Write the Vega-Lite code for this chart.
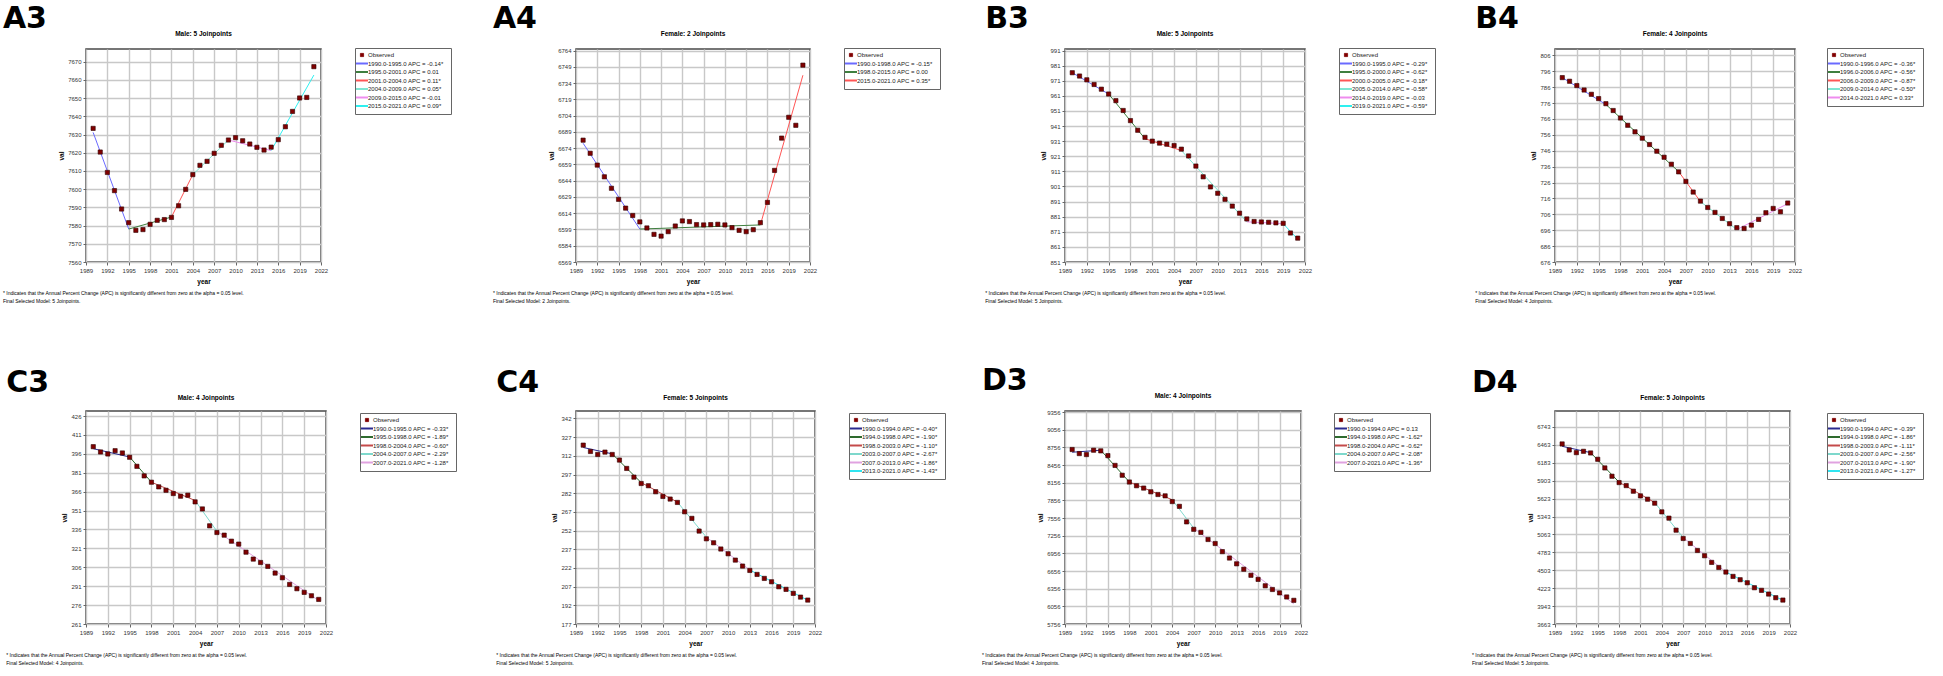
{
"$schema": "https://vega.github.io/schema/vega-lite/v6.json",
"padding": {"left": 2, "top": 4, "right": 0, "bottom": 0},
"background": "white",
"config": {
 "font": "Liberation Sans",
 "view": {"stroke": "#4a4a4a", "strokeWidth": 1.5},
 "axis": {"labelFontSize": 6, "labelColor": "#333333", "labelOverlap": false, "labelFlush": false, "labelBound": false, "titleFontSize": 6.5, "titleFontWeight": "bold", "titleColor": "#000000", "gridColor": "#c8c8c8", "gridWidth": 1.4, "tickColor": "#666666", "tickSize": 3, "domain": false, "labelPadding": 2, "titlePadding": 5},
 "axisY": {"titlePadding": 3},
 "legend": {"labelFontSize": 6, "labelColor": "#222222", "labelLimit": 300, "symbolSize": 16, "rowPadding": 0.5, "padding": 4, "strokeColor": "#666666", "labelOffset": 3},
 "title": {"color": "#000000"}
},
"datasets": {
 "obs": [
  {"p":"A3","year":1990,"v":7633.4},{"p":"A3","year":1991,"v":7620.4},{"p":"A3","year":1992,"v":7609.2},{"p":"A3","year":1993,"v":7599.2},{"p":"A3","year":1994,"v":7589.1},{"p":"A3","year":1995,"v":7581.6},{"p":"A3","year":1996,"v":7577.4},{"p":"A3","year":1997,"v":7577.8},{"p":"A3","year":1998,"v":7580.7},{"p":"A3","year":1999,"v":7582.9},{"p":"A3","year":2000,"v":7583.3},{"p":"A3","year":2001,"v":7584.5},{"p":"A3","year":2002,"v":7590.9},{"p":"A3","year":2003,"v":7599.9},{"p":"A3","year":2004,"v":7608.0},{"p":"A3","year":2005,"v":7613.1},{"p":"A3","year":2006,"v":7615.3},{"p":"A3","year":2007,"v":7619.7},{"p":"A3","year":2008,"v":7624.1},{"p":"A3","year":2009,"v":7627.0},{"p":"A3","year":2010,"v":7628.3},{"p":"A3","year":2011,"v":7626.6},{"p":"A3","year":2012,"v":7624.8},{"p":"A3","year":2013,"v":7623.0},{"p":"A3","year":2014,"v":7621.5},{"p":"A3","year":2015,"v":7623.1},{"p":"A3","year":2016,"v":7627.2},{"p":"A3","year":2017,"v":7634.3},{"p":"A3","year":2018,"v":7642.7},{"p":"A3","year":2019,"v":7650.1},{"p":"A3","year":2020,"v":7650.4},{"p":"A3","year":2021,"v":7667.3},
  {"p":"A4","year":1990,"v":6681.4},{"p":"A4","year":1991,"v":6669.3},{"p":"A4","year":1992,"v":6658.4},{"p":"A4","year":1993,"v":6647.6},{"p":"A4","year":1994,"v":6637.0},{"p":"A4","year":1995,"v":6626.8},{"p":"A4","year":1996,"v":6618.7},{"p":"A4","year":1997,"v":6611.9},{"p":"A4","year":1998,"v":6606.0},{"p":"A4","year":1999,"v":6600.4},{"p":"A4","year":2000,"v":6594.5},{"p":"A4","year":2001,"v":6592.9},{"p":"A4","year":2002,"v":6597.0},{"p":"A4","year":2003,"v":6602.2},{"p":"A4","year":2004,"v":6606.9},{"p":"A4","year":2005,"v":6606.3},{"p":"A4","year":2006,"v":6603.5},{"p":"A4","year":2007,"v":6603.2},{"p":"A4","year":2008,"v":6603.5},{"p":"A4","year":2009,"v":6603.8},{"p":"A4","year":2010,"v":6603.2},{"p":"A4","year":2011,"v":6600.7},{"p":"A4","year":2012,"v":6598.2},{"p":"A4","year":2013,"v":6597.0},{"p":"A4","year":2014,"v":6598.8},{"p":"A4","year":2015,"v":6605.3},{"p":"A4","year":2016,"v":6624.0},{"p":"A4","year":2017,"v":6653.5},{"p":"A4","year":2018,"v":6683.3},{"p":"A4","year":2019,"v":6702.5},{"p":"A4","year":2020,"v":6695.1},{"p":"A4","year":2021,"v":6750.6},
  {"p":"B3","year":1990,"v":976.3},{"p":"B3","year":1991,"v":974.1},{"p":"B3","year":1992,"v":971.6},{"p":"B3","year":1993,"v":968.5},{"p":"B3","year":1994,"v":965.4},{"p":"B3","year":1995,"v":962.2},{"p":"B3","year":1996,"v":957.8},{"p":"B3","year":1997,"v":951.3},{"p":"B3","year":1998,"v":944.6},{"p":"B3","year":1999,"v":938.2},{"p":"B3","year":2000,"v":933.5},{"p":"B3","year":2001,"v":931.0},{"p":"B3","year":2002,"v":929.7},{"p":"B3","year":2003,"v":929.0},{"p":"B3","year":2004,"v":928.1},{"p":"B3","year":2005,"v":925.7},{"p":"B3","year":2006,"v":921.2},{"p":"B3","year":2007,"v":914.5},{"p":"B3","year":2008,"v":907.4},{"p":"B3","year":2009,"v":900.7},{"p":"B3","year":2010,"v":896.5},{"p":"B3","year":2011,"v":892.5},{"p":"B3","year":2012,"v":888.0},{"p":"B3","year":2013,"v":883.3},{"p":"B3","year":2014,"v":879.5},{"p":"B3","year":2015,"v":877.8},{"p":"B3","year":2016,"v":877.5},{"p":"B3","year":2017,"v":877.3},{"p":"B3","year":2018,"v":876.9},{"p":"B3","year":2019,"v":876.6},{"p":"B3","year":2020,"v":870.2},{"p":"B3","year":2021,"v":866.8},
  {"p":"B4","year":1990,"v":792.0},{"p":"B4","year":1991,"v":789.7},{"p":"B4","year":1992,"v":787.0},{"p":"B4","year":1993,"v":784.2},{"p":"B4","year":1994,"v":781.5},{"p":"B4","year":1995,"v":778.8},{"p":"B4","year":1996,"v":775.6},{"p":"B4","year":1997,"v":771.3},{"p":"B4","year":1998,"v":766.6},{"p":"B4","year":1999,"v":762.0},{"p":"B4","year":2000,"v":757.9},{"p":"B4","year":2001,"v":753.9},{"p":"B4","year":2002,"v":749.9},{"p":"B4","year":2003,"v":745.7},{"p":"B4","year":2004,"v":741.9},{"p":"B4","year":2005,"v":737.5},{"p":"B4","year":2006,"v":732.7},{"p":"B4","year":2007,"v":726.7},{"p":"B4","year":2008,"v":720.0},{"p":"B4","year":2009,"v":714.3},{"p":"B4","year":2010,"v":710.3},{"p":"B4","year":2011,"v":707.2},{"p":"B4","year":2012,"v":703.4},{"p":"B4","year":2013,"v":700.1},{"p":"B4","year":2014,"v":697.6},{"p":"B4","year":2015,"v":697.1},{"p":"B4","year":2016,"v":699.2},{"p":"B4","year":2017,"v":702.8},{"p":"B4","year":2018,"v":707.0},{"p":"B4","year":2019,"v":709.7},{"p":"B4","year":2020,"v":707.6},{"p":"B4","year":2021,"v":713.1},
  {"p":"C3","year":1990,"v":401.7},{"p":"C3","year":1991,"v":397.5},{"p":"C3","year":1992,"v":395.9},{"p":"C3","year":1993,"v":398.5},{"p":"C3","year":1994,"v":396.7},{"p":"C3","year":1995,"v":393.3},{"p":"C3","year":1996,"v":386.1},{"p":"C3","year":1997,"v":378.5},{"p":"C3","year":1998,"v":373.5},{"p":"C3","year":1999,"v":369.8},{"p":"C3","year":2000,"v":367.1},{"p":"C3","year":2001,"v":364.5},{"p":"C3","year":2002,"v":362.4},{"p":"C3","year":2003,"v":363.2},{"p":"C3","year":2004,"v":357.9},{"p":"C3","year":2005,"v":352.3},{"p":"C3","year":2006,"v":338.9},{"p":"C3","year":2007,"v":333.6},{"p":"C3","year":2008,"v":331.5},{"p":"C3","year":2009,"v":326.7},{"p":"C3","year":2010,"v":324.4},{"p":"C3","year":2011,"v":318.0},{"p":"C3","year":2012,"v":312.5},{"p":"C3","year":2013,"v":309.8},{"p":"C3","year":2014,"v":306.7},{"p":"C3","year":2015,"v":301.4},{"p":"C3","year":2016,"v":297.7},{"p":"C3","year":2017,"v":292.4},{"p":"C3","year":2018,"v":289.0},{"p":"C3","year":2019,"v":286.1},{"p":"C3","year":2020,"v":283.4},{"p":"C3","year":2021,"v":280.5},
  {"p":"C4","year":1990,"v":320.6},{"p":"C4","year":1991,"v":315.5},{"p":"C4","year":1992,"v":313.1},{"p":"C4","year":1993,"v":315.0},{"p":"C4","year":1994,"v":313.1},{"p":"C4","year":1995,"v":308.6},{"p":"C4","year":1996,"v":301.9},{"p":"C4","year":1997,"v":294.9},{"p":"C4","year":1998,"v":289.8},{"p":"C4","year":1999,"v":288.0},{"p":"C4","year":2000,"v":283.2},{"p":"C4","year":2001,"v":279.4},{"p":"C4","year":2002,"v":277.3},{"p":"C4","year":2003,"v":274.6},{"p":"C4","year":2004,"v":267.1},{"p":"C4","year":2005,"v":261.8},{"p":"C4","year":2006,"v":251.6},{"p":"C4","year":2007,"v":245.4},{"p":"C4","year":2008,"v":242.2},{"p":"C4","year":2009,"v":237.2},{"p":"C4","year":2010,"v":233.4},{"p":"C4","year":2011,"v":228.3},{"p":"C4","year":2012,"v":223.5},{"p":"C4","year":2013,"v":220.0},{"p":"C4","year":2014,"v":216.8},{"p":"C4","year":2015,"v":213.6},{"p":"C4","year":2016,"v":210.9},{"p":"C4","year":2017,"v":206.9},{"p":"C4","year":2018,"v":204.8},{"p":"C4","year":2019,"v":201.6},{"p":"C4","year":2020,"v":198.6},{"p":"C4","year":2021,"v":196.2},
  {"p":"D3","year":1990,"v":8719},{"p":"D3","year":1991,"v":8650},{"p":"D3","year":1992,"v":8633},{"p":"D3","year":1993,"v":8707},{"p":"D3","year":1994,"v":8696},{"p":"D3","year":1995,"v":8615},{"p":"D3","year":1996,"v":8449},{"p":"D3","year":1997,"v":8282},{"p":"D3","year":1998,"v":8167},{"p":"D3","year":1999,"v":8104},{"p":"D3","year":2000,"v":8064},{"p":"D3","year":2001,"v":8001},{"p":"D3","year":2002,"v":7955},{"p":"D3","year":2003,"v":7932},{"p":"D3","year":2004,"v":7835},{"p":"D3","year":2005,"v":7754},{"p":"D3","year":2006,"v":7490},{"p":"D3","year":2007,"v":7364},{"p":"D3","year":2008,"v":7312},{"p":"D3","year":2009,"v":7191},{"p":"D3","year":2010,"v":7123},{"p":"D3","year":2011,"v":6985},{"p":"D3","year":2012,"v":6876},{"p":"D3","year":2013,"v":6778},{"p":"D3","year":2014,"v":6686},{"p":"D3","year":2015,"v":6583},{"p":"D3","year":2016,"v":6514},{"p":"D3","year":2017,"v":6405},{"p":"D3","year":2018,"v":6342},{"p":"D3","year":2019,"v":6284},{"p":"D3","year":2020,"v":6215},{"p":"D3","year":2021,"v":6158},
  {"p":"D4","year":1990,"v":6478},{"p":"D4","year":1991,"v":6384},{"p":"D4","year":1992,"v":6342},{"p":"D4","year":1993,"v":6363},{"p":"D4","year":1994,"v":6337},{"p":"D4","year":1995,"v":6238},{"p":"D4","year":1996,"v":6103},{"p":"D4","year":1997,"v":5973},{"p":"D4","year":1998,"v":5874},{"p":"D4","year":1999,"v":5827},{"p":"D4","year":2000,"v":5739},{"p":"D4","year":2001,"v":5666},{"p":"D4","year":2002,"v":5614},{"p":"D4","year":2003,"v":5552},{"p":"D4","year":2004,"v":5416},{"p":"D4","year":2005,"v":5318},{"p":"D4","year":2006,"v":5130},{"p":"D4","year":2007,"v":5000},{"p":"D4","year":2008,"v":4922},{"p":"D4","year":2009,"v":4813},{"p":"D4","year":2010,"v":4730},{"p":"D4","year":2011,"v":4626},{"p":"D4","year":2012,"v":4547},{"p":"D4","year":2013,"v":4475},{"p":"D4","year":2014,"v":4407},{"p":"D4","year":2015,"v":4355},{"p":"D4","year":2016,"v":4308},{"p":"D4","year":2017,"v":4230},{"p":"D4","year":2018,"v":4189},{"p":"D4","year":2019,"v":4131},{"p":"D4","year":2020,"v":4074},{"p":"D4","year":2021,"v":4037}
 ],
 "fit": [
  {"p":"A3","seg":"1990.0-1995.0 APC  =  -0.14*","year":1990,"v":7631.2},{"p":"A3","seg":"1990.0-1995.0 APC  =  -0.14*","year":1995,"v":7578.1},
  {"p":"A3","seg":"1995.0-2001.0 APC  =  0.01","year":1995,"v":7578.1},{"p":"A3","seg":"1995.0-2001.0 APC  =  0.01","year":2001,"v":7584.7},
  {"p":"A3","seg":"2001.0-2004.0 APC  =  0.11*","year":2001,"v":7584.7},{"p":"A3","seg":"2001.0-2004.0 APC  =  0.11*","year":2004,"v":7608.0},
  {"p":"A3","seg":"2004.0-2009.0 APC  =  0.05*","year":2004,"v":7608.0},{"p":"A3","seg":"2004.0-2009.0 APC  =  0.05*","year":2009,"v":7627.0},
  {"p":"A3","seg":"2009.0-2015.0 APC  =  -0.01","year":2009,"v":7627.0},{"p":"A3","seg":"2009.0-2015.0 APC  =  -0.01","year":2015,"v":7621.2},
  {"p":"A3","seg":"2015.0-2021.0 APC  =  0.09*","year":2015,"v":7621.2},{"p":"A3","seg":"2015.0-2021.0 APC  =  0.09*","year":2021,"v":7662.7},
  {"p":"A4","seg":"1990.0-1998.0 APC  =  -0.15*","year":1990,"v":6678.6},{"p":"A4","seg":"1990.0-1998.0 APC  =  -0.15*","year":1998,"v":6599.4},
  {"p":"A4","seg":"1998.0-2015.0 APC  =  0.00","year":1998,"v":6599.4},{"p":"A4","seg":"1998.0-2015.0 APC  =  0.00","year":2015,"v":6603.2},
  {"p":"A4","seg":"2015.0-2021.0 APC  =  0.35*","year":2015,"v":6603.2},{"p":"A4","seg":"2015.0-2021.0 APC  =  0.35*","year":2021,"v":6741.3},
  {"p":"B3","seg":"1990.0-1995.0 APC  =  -0.29*","year":1990,"v":976.3},{"p":"B3","seg":"1990.0-1995.0 APC  =  -0.29*","year":1995,"v":962.2},
  {"p":"B3","seg":"1995.0-2000.0 APC  =  -0.62*","year":1995,"v":962.2},{"p":"B3","seg":"1995.0-2000.0 APC  =  -0.62*","year":2000,"v":932.6},
  {"p":"B3","seg":"2000.0-2005.0 APC  =  -0.18*","year":2000,"v":932.6},{"p":"B3","seg":"2000.0-2005.0 APC  =  -0.18*","year":2005,"v":924.8},
  {"p":"B3","seg":"2005.0-2014.0 APC  =  -0.58*","year":2005,"v":924.8},{"p":"B3","seg":"2005.0-2014.0 APC  =  -0.58*","year":2014,"v":877.6},
  {"p":"B3","seg":"2014.0-2019.0 APC  =  -0.03","year":2014,"v":877.6},{"p":"B3","seg":"2014.0-2019.0 APC  =  -0.03","year":2019,"v":876.4},
  {"p":"B3","seg":"2019.0-2021.0 APC  =  -0.59*","year":2019,"v":876.4},{"p":"B3","seg":"2019.0-2021.0 APC  =  -0.59*","year":2021,"v":866.1},
  {"p":"B4","seg":"1990.0-1996.0 APC  =  -0.36*","year":1990,"v":792.0},{"p":"B4","seg":"1990.0-1996.0 APC  =  -0.36*","year":1996,"v":775.1},
  {"p":"B4","seg":"1996.0-2006.0 APC  =  -0.56*","year":1996,"v":775.1},{"p":"B4","seg":"1996.0-2006.0 APC  =  -0.56*","year":2006,"v":732.9},
  {"p":"B4","seg":"2006.0-2009.0 APC  =  -0.87*","year":2006,"v":732.9},{"p":"B4","seg":"2006.0-2009.0 APC  =  -0.87*","year":2009,"v":714.0},
  {"p":"B4","seg":"2009.0-2014.0 APC  =  -0.50*","year":2009,"v":714.0},{"p":"B4","seg":"2009.0-2014.0 APC  =  -0.50*","year":2014,"v":696.4},
  {"p":"B4","seg":"2014.0-2021.0 APC  =  0.33*","year":2014,"v":696.4},{"p":"B4","seg":"2014.0-2021.0 APC  =  0.33*","year":2021,"v":712.7},
  {"p":"C3","seg":"1990.0-1995.0 APC  =  -0.33*","year":1990,"v":400.1},{"p":"C3","seg":"1990.0-1995.0 APC  =  -0.33*","year":1995,"v":393.5},
  {"p":"C3","seg":"1995.0-1998.0 APC  =  -1.89*","year":1995,"v":393.5},{"p":"C3","seg":"1995.0-1998.0 APC  =  -1.89*","year":1998,"v":373.5},
  {"p":"C3","seg":"1998.0-2004.0 APC  =  -0.60*","year":1998,"v":373.5},{"p":"C3","seg":"1998.0-2004.0 APC  =  -0.60*","year":2004,"v":359.0},
  {"p":"C3","seg":"2004.0-2007.0 APC  =  -2.29*","year":2004,"v":359.0},{"p":"C3","seg":"2004.0-2007.0 APC  =  -2.29*","year":2007,"v":334.6},
  {"p":"C3","seg":"2007.0-2021.0 APC  =  -1.28*","year":2007,"v":334.6},{"p":"C3","seg":"2007.0-2021.0 APC  =  -1.28*","year":2021,"v":279.6},
  {"p":"C4","seg":"1990.0-1994.0 APC  =  -0.40*","year":1990,"v":318.7},{"p":"C4","seg":"1990.0-1994.0 APC  =  -0.40*","year":1994,"v":313.6},
  {"p":"C4","seg":"1994.0-1998.0 APC  =  -1.90*","year":1994,"v":313.6},{"p":"C4","seg":"1994.0-1998.0 APC  =  -1.90*","year":1998,"v":290.5},
  {"p":"C4","seg":"1998.0-2003.0 APC  =  -1.10*","year":1998,"v":290.5},{"p":"C4","seg":"1998.0-2003.0 APC  =  -1.10*","year":2003,"v":274.9},
  {"p":"C4","seg":"2003.0-2007.0 APC  =  -2.67*","year":2003,"v":274.9},{"p":"C4","seg":"2003.0-2007.0 APC  =  -2.67*","year":2007,"v":246.7},
  {"p":"C4","seg":"2007.0-2013.0 APC  =  -1.86*","year":2007,"v":246.7},{"p":"C4","seg":"2007.0-2013.0 APC  =  -1.86*","year":2013,"v":220.4},
  {"p":"C4","seg":"2013.0-2021.0 APC  =  -1.43*","year":2013,"v":220.4},{"p":"C4","seg":"2013.0-2021.0 APC  =  -1.43*","year":2021,"v":196.1},
  {"p":"D3","seg":"1990.0-1994.0 APC  =  0.13","year":1990,"v":8673},{"p":"D3","seg":"1990.0-1994.0 APC  =  0.13","year":1994,"v":8707},
  {"p":"D3","seg":"1994.0-1998.0 APC  =  -1.62*","year":1994,"v":8707},{"p":"D3","seg":"1994.0-1998.0 APC  =  -1.62*","year":1998,"v":8167},
  {"p":"D3","seg":"1998.0-2004.0 APC  =  -0.62*","year":1998,"v":8167},{"p":"D3","seg":"1998.0-2004.0 APC  =  -0.62*","year":2004,"v":7865},
  {"p":"D3","seg":"2004.0-2007.0 APC  =  -2.08*","year":2004,"v":7865},{"p":"D3","seg":"2004.0-2007.0 APC  =  -2.08*","year":2007,"v":7384},
  {"p":"D3","seg":"2007.0-2021.0 APC  =  -1.36*","year":2007,"v":7384},{"p":"D3","seg":"2007.0-2021.0 APC  =  -1.36*","year":2021,"v":6098},
  {"p":"D4","seg":"1990.0-1994.0 APC  =  -0.39*","year":1990,"v":6441},{"p":"D4","seg":"1990.0-1994.0 APC  =  -0.39*","year":1994,"v":6342},
  {"p":"D4","seg":"1994.0-1998.0 APC  =  -1.86*","year":1994,"v":6342},{"p":"D4","seg":"1994.0-1998.0 APC  =  -1.86*","year":1998,"v":5880},
  {"p":"D4","seg":"1998.0-2003.0 APC  =  -1.11*","year":1998,"v":5880},{"p":"D4","seg":"1998.0-2003.0 APC  =  -1.11*","year":2003,"v":5562},
  {"p":"D4","seg":"2003.0-2007.0 APC  =  -2.56*","year":2003,"v":5562},{"p":"D4","seg":"2003.0-2007.0 APC  =  -2.56*","year":2007,"v":5014},
  {"p":"D4","seg":"2007.0-2013.0 APC  =  -1.90*","year":2007,"v":5014},{"p":"D4","seg":"2007.0-2013.0 APC  =  -1.90*","year":2013,"v":4475},
  {"p":"D4","seg":"2013.0-2021.0 APC  =  -1.27*","year":2013,"v":4475},{"p":"D4","seg":"2013.0-2021.0 APC  =  -1.27*","year":2021,"v":4033}
 ]
},
"columns": 4,
"spacing": {"row": 60, "column": 34},
"resolve": {"scale": {"x": "independent", "y": "independent", "color": "independent"}, "legend": {"color": "independent"}, "axis": {"x": "independent", "y": "independent"}},
"concat": [
 {"resolve": {"scale": {"color": "independent"}, "legend": {"color": "independent"}},
  "title": {"text": ["* Indicates that the Annual Percent Change (APC) is significantly different from zero at the alpha = 0.05 level.", "Final Selected Model: 5 Joinpoints."], "orient": "bottom", "anchor": "start", "fontSize": 5, "fontWeight": "normal", "offset": 6, "lineHeight": 8},
  "vconcat": [{"resolve": {"scale": {"color": "independent"}, "legend": {"color": "independent"}},
   "title": {"text": "A3", "anchor": "start", "font": "DejaVu Sans", "fontSize": 30, "fontWeight": "bold", "offset": -4, "dx": -55},
   "vconcat": [{"width": 235, "height": 213,
    "title": {"text": "Male: 5 Joinpoints", "fontSize": 6.5, "fontWeight": "bold", "anchor": "middle", "frame": "group", "offset": 10},
    "layer": [
     {"data": {"name": "fit"}, "transform": [{"filter": "datum.p == 'A3'"}], "mark": {"type": "line", "strokeWidth": 1},
      "encoding": {
       "x": {"field": "year", "type": "quantitative", "scale": {"domain": [1989, 2022], "nice": false, "zero": false}, "axis": {"values": [1989,1992,1995,1998,2001,2004,2007,2010,2013,2016,2019,2022], "tickCount": 60, "format": "d", "title": "year"}},
       "y": {"field": "v", "type": "quantitative", "scale": {"domain": [7560, 7677], "nice": false, "zero": false}, "axis": {"values": [7560,7570,7580,7590,7600,7610,7620,7630,7640,7650,7660,7670], "tickCount": 60, "format": "d", "title": "val"}},
       "color": {"field": "seg", "type": "nominal", "scale": {"domain": ["Observed","1990.0-1995.0 APC  =  -0.14*","1995.0-2001.0 APC  =  0.01","2001.0-2004.0 APC  =  0.11*","2004.0-2009.0 APC  =  0.05*","2009.0-2015.0 APC  =  -0.01","2015.0-2021.0 APC  =  0.09*"], "range": ["#800000","#6a6aff","#3f7f3f","#ff5555","#7ee6d2","#ee8cee","#2ef0f0"]},
        "legend": {"orient": "none", "legendX": 269, "legendY": -1, "title": null,
         "encode": {"symbols": {"update": {"shape": {"signal": "datum.value == 'Observed' ? 'M-0.8,-0.8H0.8V0.8H-0.8Z' : 'M-3,0H3'"}, "fill": {"signal": "datum.value == 'Observed' ? '#800000' : 'transparent'"}, "strokeWidth": {"signal": "datum.value == 'Observed' ? 0.8 : 2"}}}}}}
      }},
     {"data": {"name": "obs"}, "transform": [{"filter": "datum.p == 'A3'"}], "mark": {"type": "square", "filled": true, "opacity": 1, "size": 18, "color": "#800000", "stroke": "#300000", "strokeWidth": 0.6},
      "encoding": {"x": {"field": "year", "type": "quantitative"}, "y": {"field": "v", "type": "quantitative"}}}
    ]}]
  }]
 },
 {"resolve": {"scale": {"color": "independent"}, "legend": {"color": "independent"}},
  "title": {"text": ["* Indicates that the Annual Percent Change (APC) is significantly different from zero at the alpha = 0.05 level.", "Final Selected Model: 2 Joinpoints."], "orient": "bottom", "anchor": "start", "fontSize": 5, "fontWeight": "normal", "offset": 6, "lineHeight": 8},
  "vconcat": [{"resolve": {"scale": {"color": "independent"}, "legend": {"color": "independent"}},
   "title": {"text": "A4", "anchor": "start", "font": "DejaVu Sans", "fontSize": 30, "fontWeight": "bold", "offset": -4, "dx": -55},
   "vconcat": [{"width": 234, "height": 213,
    "title": {"text": "Female: 2 Joinpoints", "fontSize": 6.5, "fontWeight": "bold", "anchor": "middle", "frame": "group", "offset": 10},
    "layer": [
     {"data": {"name": "fit"}, "transform": [{"filter": "datum.p == 'A4'"}], "mark": {"type": "line", "strokeWidth": 1},
      "encoding": {
       "x": {"field": "year", "type": "quantitative", "scale": {"domain": [1989, 2022], "nice": false, "zero": false}, "axis": {"values": [1989,1992,1995,1998,2001,2004,2007,2010,2013,2016,2019,2022], "tickCount": 60, "format": "d", "title": "year"}},
       "y": {"field": "v", "type": "quantitative", "scale": {"domain": [6569, 6765.5], "nice": false, "zero": false}, "axis": {"values": [6569,6584,6599,6614,6629,6644,6659,6674,6689,6704,6719,6734,6749,6764], "tickCount": 60, "format": "d", "title": "val"}},
       "color": {"field": "seg", "type": "nominal", "scale": {"domain": ["Observed","1990.0-1998.0 APC  =  -0.15*","1998.0-2015.0 APC  =  0.00","2015.0-2021.0 APC  =  0.35*"], "range": ["#800000","#6a6aff","#3f7f3f","#ff5555"]},
        "legend": {"orient": "none", "legendX": 268, "legendY": -1, "title": null,
         "encode": {"symbols": {"update": {"shape": {"signal": "datum.value == 'Observed' ? 'M-0.8,-0.8H0.8V0.8H-0.8Z' : 'M-3,0H3'"}, "fill": {"signal": "datum.value == 'Observed' ? '#800000' : 'transparent'"}, "strokeWidth": {"signal": "datum.value == 'Observed' ? 0.8 : 2"}}}}}}
      }},
     {"data": {"name": "obs"}, "transform": [{"filter": "datum.p == 'A4'"}], "mark": {"type": "square", "filled": true, "opacity": 1, "size": 18, "color": "#800000", "stroke": "#300000", "strokeWidth": 0.6},
      "encoding": {"x": {"field": "year", "type": "quantitative"}, "y": {"field": "v", "type": "quantitative"}}}
    ]}]
  }]
 },
 {"resolve": {"scale": {"color": "independent"}, "legend": {"color": "independent"}},
  "title": {"text": ["* Indicates that the Annual Percent Change (APC) is significantly different from zero at the alpha = 0.05 level.", "Final Selected Model: 5 Joinpoints."], "orient": "bottom", "anchor": "start", "fontSize": 5, "fontWeight": "normal", "offset": 6, "lineHeight": 8},
  "vconcat": [{"resolve": {"scale": {"color": "independent"}, "legend": {"color": "independent"}},
   "title": {"text": "B3", "anchor": "start", "font": "DejaVu Sans", "fontSize": 30, "fontWeight": "bold", "offset": -4, "dx": -55},
   "vconcat": [{"width": 240, "height": 213,
    "title": {"text": "Male: 5 Joinpoints", "fontSize": 6.5, "fontWeight": "bold", "anchor": "middle", "frame": "group", "offset": 10},
    "layer": [
     {"data": {"name": "fit"}, "transform": [{"filter": "datum.p == 'B3'"}], "mark": {"type": "line", "strokeWidth": 1},
      "encoding": {
       "x": {"field": "year", "type": "quantitative", "scale": {"domain": [1989, 2022], "nice": false, "zero": false}, "axis": {"values": [1989,1992,1995,1998,2001,2004,2007,2010,2013,2016,2019,2022], "tickCount": 60, "format": "d", "title": "year"}},
       "y": {"field": "v", "type": "quantitative", "scale": {"domain": [851, 992], "nice": false, "zero": false}, "axis": {"values": [851,861,871,881,891,901,911,921,931,941,951,961,971,981,991], "tickCount": 60, "format": "d", "title": "val"}},
       "color": {"field": "seg", "type": "nominal", "scale": {"domain": ["Observed","1990.0-1995.0 APC  =  -0.29*","1995.0-2000.0 APC  =  -0.62*","2000.0-2005.0 APC  =  -0.18*","2005.0-2014.0 APC  =  -0.58*","2014.0-2019.0 APC  =  -0.03","2019.0-2021.0 APC  =  -0.59*"], "range": ["#800000","#6a6aff","#3f7f3f","#ff5555","#7ee6d2","#ee8cee","#2ef0f0"]},
        "legend": {"orient": "none", "legendX": 274, "legendY": -1, "title": null,
         "encode": {"symbols": {"update": {"shape": {"signal": "datum.value == 'Observed' ? 'M-0.8,-0.8H0.8V0.8H-0.8Z' : 'M-3,0H3'"}, "fill": {"signal": "datum.value == 'Observed' ? '#800000' : 'transparent'"}, "strokeWidth": {"signal": "datum.value == 'Observed' ? 0.8 : 2"}}}}}}
      }},
     {"data": {"name": "obs"}, "transform": [{"filter": "datum.p == 'B3'"}], "mark": {"type": "square", "filled": true, "opacity": 1, "size": 18, "color": "#800000", "stroke": "#300000", "strokeWidth": 0.6},
      "encoding": {"x": {"field": "year", "type": "quantitative"}, "y": {"field": "v", "type": "quantitative"}}}
    ]}]
  }]
 },
 {"resolve": {"scale": {"color": "independent"}, "legend": {"color": "independent"}},
  "title": {"text": ["* Indicates that the Annual Percent Change (APC) is significantly different from zero at the alpha = 0.05 level.", "Final Selected Model: 4 Joinpoints."], "orient": "bottom", "anchor": "start", "fontSize": 5, "fontWeight": "normal", "offset": 6, "lineHeight": 8},
  "vconcat": [{"resolve": {"scale": {"color": "independent"}, "legend": {"color": "independent"}},
   "title": {"text": "B4", "anchor": "start", "font": "DejaVu Sans", "fontSize": 30, "fontWeight": "bold", "offset": -4, "dx": -55},
   "vconcat": [{"width": 240, "height": 213,
    "title": {"text": "Female: 4 Joinpoints", "fontSize": 6.5, "fontWeight": "bold", "anchor": "middle", "frame": "group", "offset": 10},
    "layer": [
     {"data": {"name": "fit"}, "transform": [{"filter": "datum.p == 'B4'"}], "mark": {"type": "line", "strokeWidth": 1},
      "encoding": {
       "x": {"field": "year", "type": "quantitative", "scale": {"domain": [1989, 2022], "nice": false, "zero": false}, "axis": {"values": [1989,1992,1995,1998,2001,2004,2007,2010,2013,2016,2019,2022], "tickCount": 60, "format": "d", "title": "year"}},
       "y": {"field": "v", "type": "quantitative", "scale": {"domain": [676, 810], "nice": false, "zero": false}, "axis": {"values": [676,686,696,706,716,726,736,746,756,766,776,786,796,806], "tickCount": 60, "format": "d", "title": "val"}},
       "color": {"field": "seg", "type": "nominal", "scale": {"domain": ["Observed","1990.0-1996.0 APC  =  -0.36*","1996.0-2006.0 APC  =  -0.56*","2006.0-2009.0 APC  =  -0.87*","2009.0-2014.0 APC  =  -0.50*","2014.0-2021.0 APC  =  0.33*"], "range": ["#800000","#6a6aff","#3f7f3f","#ff5555","#7ee6d2","#ee8cee"]},
        "legend": {"orient": "none", "legendX": 272, "legendY": -1, "title": null,
         "encode": {"symbols": {"update": {"shape": {"signal": "datum.value == 'Observed' ? 'M-0.8,-0.8H0.8V0.8H-0.8Z' : 'M-3,0H3'"}, "fill": {"signal": "datum.value == 'Observed' ? '#800000' : 'transparent'"}, "strokeWidth": {"signal": "datum.value == 'Observed' ? 0.8 : 2"}}}}}}
      }},
     {"data": {"name": "obs"}, "transform": [{"filter": "datum.p == 'B4'"}], "mark": {"type": "square", "filled": true, "opacity": 1, "size": 18, "color": "#800000", "stroke": "#300000", "strokeWidth": 0.6},
      "encoding": {"x": {"field": "year", "type": "quantitative"}, "y": {"field": "v", "type": "quantitative"}}}
    ]}]
  }]
 },
 {"resolve": {"scale": {"color": "independent"}, "legend": {"color": "independent"}},
  "title": {"text": ["* Indicates that the Annual Percent Change (APC) is significantly different from zero at the alpha = 0.05 level.", "Final Selected Model: 4 Joinpoints."], "orient": "bottom", "anchor": "start", "fontSize": 5, "fontWeight": "normal", "offset": 6, "lineHeight": 8},
  "vconcat": [{"resolve": {"scale": {"color": "independent"}, "legend": {"color": "independent"}},
   "title": {"text": "C3", "anchor": "start", "font": "DejaVu Sans", "fontSize": 30, "fontWeight": "bold", "offset": -4, "dx": -55},
   "vconcat": [{"width": 240, "height": 213,
    "title": {"text": "Male: 4 Joinpoints", "fontSize": 6.5, "fontWeight": "bold", "anchor": "middle", "frame": "group", "offset": 10},
    "layer": [
     {"data": {"name": "fit"}, "transform": [{"filter": "datum.p == 'C3'"}], "mark": {"type": "line", "strokeWidth": 1},
      "encoding": {
       "x": {"field": "year", "type": "quantitative", "scale": {"domain": [1989, 2022], "nice": false, "zero": false}, "axis": {"values": [1989,1992,1995,1998,2001,2004,2007,2010,2013,2016,2019,2022], "tickCount": 60, "format": "d", "title": "year"}},
       "y": {"field": "v", "type": "quantitative", "scale": {"domain": [261, 430], "nice": false, "zero": false}, "axis": {"values": [261,276,291,306,321,336,351,366,381,396,411,426], "tickCount": 60, "format": "d", "title": "val"}},
       "color": {"field": "seg", "type": "nominal", "scale": {"domain": ["Observed","1990.0-1995.0 APC  =  -0.33*","1995.0-1998.0 APC  =  -1.89*","1998.0-2004.0 APC  =  -0.60*","2004.0-2007.0 APC  =  -2.29*","2007.0-2021.0 APC  =  -1.28*"], "range": ["#800000","#2a2a90","#2e6b2e","#c44a4a","#7ed8cc","#e0a2e0"]},
        "legend": {"orient": "none", "legendX": 274, "legendY": 2, "title": null,
         "encode": {"symbols": {"update": {"shape": {"signal": "datum.value == 'Observed' ? 'M-0.8,-0.8H0.8V0.8H-0.8Z' : 'M-3,0H3'"}, "fill": {"signal": "datum.value == 'Observed' ? '#800000' : 'transparent'"}, "strokeWidth": {"signal": "datum.value == 'Observed' ? 0.8 : 2"}}}}}}
      }},
     {"data": {"name": "obs"}, "transform": [{"filter": "datum.p == 'C3'"}], "mark": {"type": "square", "filled": true, "opacity": 1, "size": 18, "color": "#800000", "stroke": "#300000", "strokeWidth": 0.6},
      "encoding": {"x": {"field": "year", "type": "quantitative"}, "y": {"field": "v", "type": "quantitative"}}}
    ]}]
  }]
 },
 {"resolve": {"scale": {"color": "independent"}, "legend": {"color": "independent"}},
  "title": {"text": ["* Indicates that the Annual Percent Change (APC) is significantly different from zero at the alpha = 0.05 level.", "Final Selected Model: 5 Joinpoints."], "orient": "bottom", "anchor": "start", "fontSize": 5, "fontWeight": "normal", "offset": 6, "lineHeight": 8},
  "vconcat": [{"resolve": {"scale": {"color": "independent"}, "legend": {"color": "independent"}},
   "title": {"text": "C4", "anchor": "start", "font": "DejaVu Sans", "fontSize": 30, "fontWeight": "bold", "offset": -4, "dx": -55},
   "vconcat": [{"width": 239, "height": 213,
    "title": {"text": "Female: 5 Joinpoints", "fontSize": 6.5, "fontWeight": "bold", "anchor": "middle", "frame": "group", "offset": 10},
    "layer": [
     {"data": {"name": "fit"}, "transform": [{"filter": "datum.p == 'C4'"}], "mark": {"type": "line", "strokeWidth": 1},
      "encoding": {
       "x": {"field": "year", "type": "quantitative", "scale": {"domain": [1989, 2022], "nice": false, "zero": false}, "axis": {"values": [1989,1992,1995,1998,2001,2004,2007,2010,2013,2016,2019,2022], "tickCount": 60, "format": "d", "title": "year"}},
       "y": {"field": "v", "type": "quantitative", "scale": {"domain": [177, 348], "nice": false, "zero": false}, "axis": {"values": [177,192,207,222,237,252,267,282,297,312,327,342], "tickCount": 60, "format": "d", "title": "val"}},
       "color": {"field": "seg", "type": "nominal", "scale": {"domain": ["Observed","1990.0-1994.0 APC  =  -0.40*","1994.0-1998.0 APC  =  -1.90*","1998.0-2003.0 APC  =  -1.10*","2003.0-2007.0 APC  =  -2.67*","2007.0-2013.0 APC  =  -1.86*","2013.0-2021.0 APC  =  -1.43*"], "range": ["#800000","#2a2a90","#2e6b2e","#c44a4a","#7ed8cc","#e0a2e0","#30e4f0"]},
        "legend": {"orient": "none", "legendX": 273, "legendY": 2, "title": null,
         "encode": {"symbols": {"update": {"shape": {"signal": "datum.value == 'Observed' ? 'M-0.8,-0.8H0.8V0.8H-0.8Z' : 'M-3,0H3'"}, "fill": {"signal": "datum.value == 'Observed' ? '#800000' : 'transparent'"}, "strokeWidth": {"signal": "datum.value == 'Observed' ? 0.8 : 2"}}}}}}
      }},
     {"data": {"name": "obs"}, "transform": [{"filter": "datum.p == 'C4'"}], "mark": {"type": "square", "filled": true, "opacity": 1, "size": 18, "color": "#800000", "stroke": "#300000", "strokeWidth": 0.6},
      "encoding": {"x": {"field": "year", "type": "quantitative"}, "y": {"field": "v", "type": "quantitative"}}}
    ]}]
  }]
 },
 {"resolve": {"scale": {"color": "independent"}, "legend": {"color": "independent"}},
  "title": {"text": ["* Indicates that the Annual Percent Change (APC) is significantly different from zero at the alpha = 0.05 level.", "Final Selected Model: 4 Joinpoints."], "orient": "bottom", "anchor": "start", "fontSize": 5, "fontWeight": "normal", "offset": 6, "lineHeight": 8},
  "vconcat": [{"resolve": {"scale": {"color": "independent"}, "legend": {"color": "independent"}},
   "title": {"text": "D3", "anchor": "start", "font": "DejaVu Sans", "fontSize": 30, "fontWeight": "bold", "offset": -4, "dx": -55},
   "vconcat": [{"width": 236, "height": 213,
    "title": {"text": "Male: 4 Joinpoints", "fontSize": 6.5, "fontWeight": "bold", "anchor": "middle", "frame": "group", "offset": 10},
    "layer": [
     {"data": {"name": "fit"}, "transform": [{"filter": "datum.p == 'D3'"}], "mark": {"type": "line", "strokeWidth": 1},
      "encoding": {
       "x": {"field": "year", "type": "quantitative", "scale": {"domain": [1989, 2022], "nice": false, "zero": false}, "axis": {"values": [1989,1992,1995,1998,2001,2004,2007,2010,2013,2016,2019,2022], "tickCount": 60, "format": "d", "title": "year"}},
       "y": {"field": "v", "type": "quantitative", "scale": {"domain": [5756, 9373], "nice": false, "zero": false}, "axis": {"values": [5756,6056,6356,6656,6956,7256,7556,7856,8156,8456,8756,9056,9356], "tickCount": 60, "format": "d", "title": "val"}},
       "color": {"field": "seg", "type": "nominal", "scale": {"domain": ["Observed","1990.0-1994.0 APC  =  0.13","1994.0-1998.0 APC  =  -1.62*","1998.0-2004.0 APC  =  -0.62*","2004.0-2007.0 APC  =  -2.08*","2007.0-2021.0 APC  =  -1.36*"], "range": ["#800000","#2a2a90","#2e6b2e","#c44a4a","#7ed8cc","#e0a2e0"]},
        "legend": {"orient": "none", "legendX": 269, "legendY": 2, "title": null,
         "encode": {"symbols": {"update": {"shape": {"signal": "datum.value == 'Observed' ? 'M-0.8,-0.8H0.8V0.8H-0.8Z' : 'M-3,0H3'"}, "fill": {"signal": "datum.value == 'Observed' ? '#800000' : 'transparent'"}, "strokeWidth": {"signal": "datum.value == 'Observed' ? 0.8 : 2"}}}}}}
      }},
     {"data": {"name": "obs"}, "transform": [{"filter": "datum.p == 'D3'"}], "mark": {"type": "square", "filled": true, "opacity": 1, "size": 18, "color": "#800000", "stroke": "#300000", "strokeWidth": 0.6},
      "encoding": {"x": {"field": "year", "type": "quantitative"}, "y": {"field": "v", "type": "quantitative"}}}
    ]}]
  }]
 },
 {"resolve": {"scale": {"color": "independent"}, "legend": {"color": "independent"}},
  "title": {"text": ["* Indicates that the Annual Percent Change (APC) is significantly different from zero at the alpha = 0.05 level.", "Final Selected Model: 5 Joinpoints."], "orient": "bottom", "anchor": "start", "fontSize": 5, "fontWeight": "normal", "offset": 6, "lineHeight": 8},
  "vconcat": [{"resolve": {"scale": {"color": "independent"}, "legend": {"color": "independent"}},
   "title": {"text": "D4", "anchor": "start", "font": "DejaVu Sans", "fontSize": 30, "fontWeight": "bold", "offset": -4, "dx": -55},
   "vconcat": [{"width": 235, "height": 213,
    "title": {"text": "Female: 5 Joinpoints", "fontSize": 6.5, "fontWeight": "bold", "anchor": "middle", "frame": "group", "offset": 10},
    "layer": [
     {"data": {"name": "fit"}, "transform": [{"filter": "datum.p == 'D4'"}], "mark": {"type": "line", "strokeWidth": 1},
      "encoding": {
       "x": {"field": "year", "type": "quantitative", "scale": {"domain": [1989, 2022], "nice": false, "zero": false}, "axis": {"values": [1989,1992,1995,1998,2001,2004,2007,2010,2013,2016,2019,2022], "tickCount": 60, "format": "d", "title": "year"}},
       "y": {"field": "v", "type": "quantitative", "scale": {"domain": [3663, 6993], "nice": false, "zero": false}, "axis": {"values": [3663,3943,4223,4503,4783,5063,5343,5623,5903,6183,6463,6743], "tickCount": 60, "format": "d", "title": "val"}},
       "color": {"field": "seg", "type": "nominal", "scale": {"domain": ["Observed","1990.0-1994.0 APC  =  -0.39*","1994.0-1998.0 APC  =  -1.86*","1998.0-2003.0 APC  =  -1.11*","2003.0-2007.0 APC  =  -2.56*","2007.0-2013.0 APC  =  -1.90*","2013.0-2021.0 APC  =  -1.27*"], "range": ["#800000","#2a2a90","#2e6b2e","#c44a4a","#7ed8cc","#e0a2e0","#30e4f0"]},
        "legend": {"orient": "none", "legendX": 272, "legendY": 2, "title": null,
         "encode": {"symbols": {"update": {"shape": {"signal": "datum.value == 'Observed' ? 'M-0.8,-0.8H0.8V0.8H-0.8Z' : 'M-3,0H3'"}, "fill": {"signal": "datum.value == 'Observed' ? '#800000' : 'transparent'"}, "strokeWidth": {"signal": "datum.value == 'Observed' ? 0.8 : 2"}}}}}}
      }},
     {"data": {"name": "obs"}, "transform": [{"filter": "datum.p == 'D4'"}], "mark": {"type": "square", "filled": true, "opacity": 1, "size": 18, "color": "#800000", "stroke": "#300000", "strokeWidth": 0.6},
      "encoding": {"x": {"field": "year", "type": "quantitative"}, "y": {"field": "v", "type": "quantitative"}}}
    ]}]
  }]
 }
]
}
